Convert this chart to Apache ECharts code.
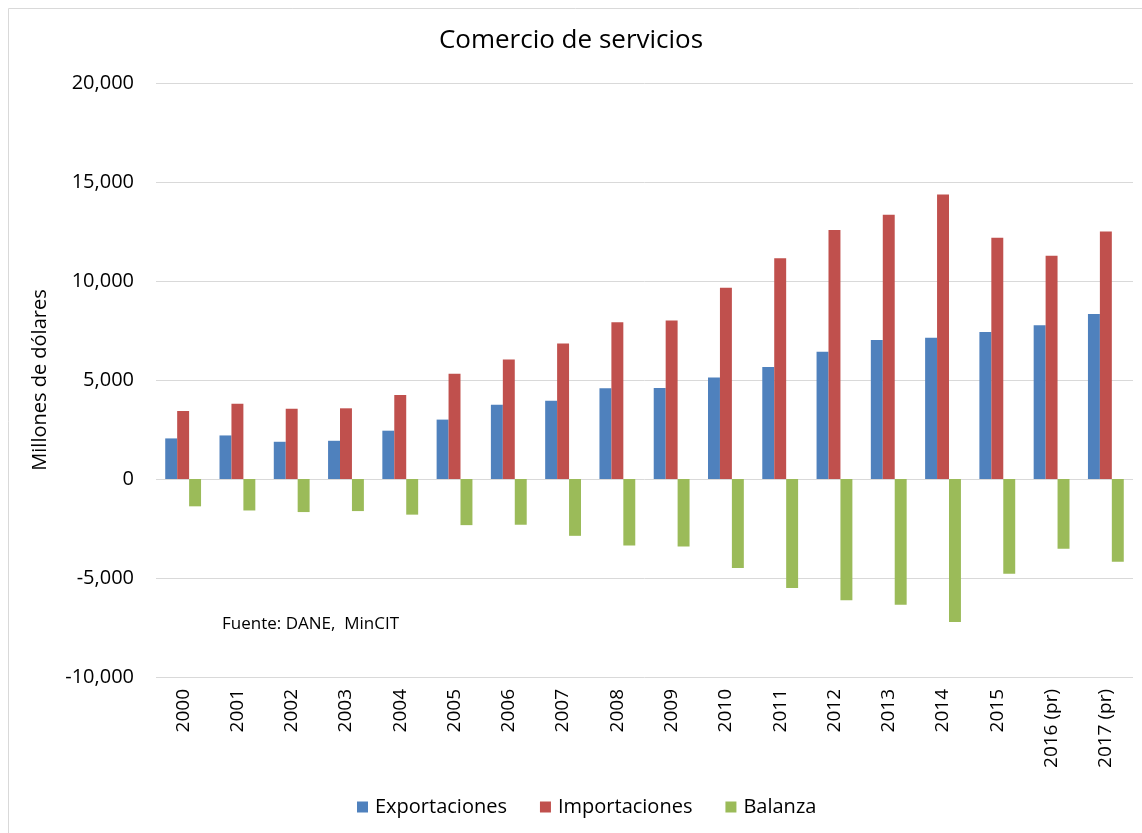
<!DOCTYPE html>
<html>
<head>
<meta charset="utf-8">
<script src="https://cdn.jsdelivr.net/npm/echarts@6/dist/echarts.min.js"></script>
<style>
  html, body { margin: 0; padding: 0; background: #fff; }
  #main { width: 1142px; height: 833px; }
</style>
</head>
<body>
<div id="main"></div>
<script>
var years = ['2000', '2001', '2002', '2003', '2004', '2005', '2006', '2007', '2008',
    '2009', '2010', '2011', '2012', '2013', '2014', '2015', '2016 (pr)', '2017 (pr)'];
var exportaciones = [2050, 2200, 1880, 1930, 2440, 3000, 3750, 3950, 4580,
    4600, 5130, 5660, 6430, 7020, 7140, 7420, 7760, 8330];
var importaciones = [3430, 3800, 3550, 3570, 4240, 5320, 6030, 6840, 7920,
    8000, 9660, 11150, 12580, 13350, 14370, 12190, 11280, 12500];
var balanza = [-1380, -1590, -1670, -1620, -1800, -2330, -2310, -2870, -3360,
    -3410, -4500, -5500, -6130, -6350, -7220, -4780, -3520, -4180];

var font = '"Open Sans", sans-serif';
var myChart = echarts.init(document.getElementById('main'));

var option = {
    animation: false,
    color: ['#4F81BD', '#C0504D', '#9BBB59'],
    title: {
        text: 'Comercio de servicios',
        left: 'center',
        top: 23,
        textStyle: { fontFamily: font, fontWeight: 'normal', fontSize: 26, color: '#000' }
    },
    legend: {
        bottom: 11,
        left: 352,
        itemWidth: 11,
        itemHeight: 11,
        itemGap: 33,
        icon: 'rect',
        textStyle: { fontFamily: font, fontSize: 20, color: '#000', padding: [0, 0, 0, 2] },
        data: ['Exportaciones', 'Importaciones', 'Balanza']
    },
    grid: { left: 156, right: 9, top: 83, bottom: 156 },
    xAxis: {
        type: 'category',
        data: years,
        axisLine: { show: false, onZero: false },
        axisTick: { show: false },
        axisLabel: { rotate: 90, fontFamily: font, fontSize: 19, color: '#000', margin: 12 }
    },
    yAxis: {
        type: 'value',
        min: -10000,
        max: 20000,
        interval: 5000,
        name: 'Millones de dólares',
        nameLocation: 'middle',
        nameGap: 106,
        nameTextStyle: { fontFamily: font, fontSize: 20, color: '#000' },
        axisLine: { show: false },
        axisTick: { show: false },
        splitLine: { lineStyle: { color: '#d9d9d9', width: 1 } },
        axisLabel: {
            fontFamily: font, fontSize: 20, color: '#000', margin: 22,
            formatter: function (v) { return echarts.format.addCommas(v); }
        }
    },
    series: [
        { name: 'Exportaciones', type: 'bar', data: exportaciones, barGap: '0%', barCategoryGap: '34%' },
        { name: 'Importaciones', type: 'bar', data: importaciones },
        { name: 'Balanza', type: 'bar', data: balanza }
    ],
    graphic: [
        {
            type: 'rect',
            shape: { x: 8.5, y: 8.5, width: 1140, height: 830 },
            style: { fill: 'none', stroke: '#d9d9d9', lineWidth: 1 },
            silent: true
        },
        {
            type: 'text',
            left: 222,
            top: 616,
            style: { text: 'Fuente: DANE,  MinCIT', font: '17px ' + font, fill: '#000' }
        }
    ]
};
myChart.setOption(option);
</script>
</body>
</html>
